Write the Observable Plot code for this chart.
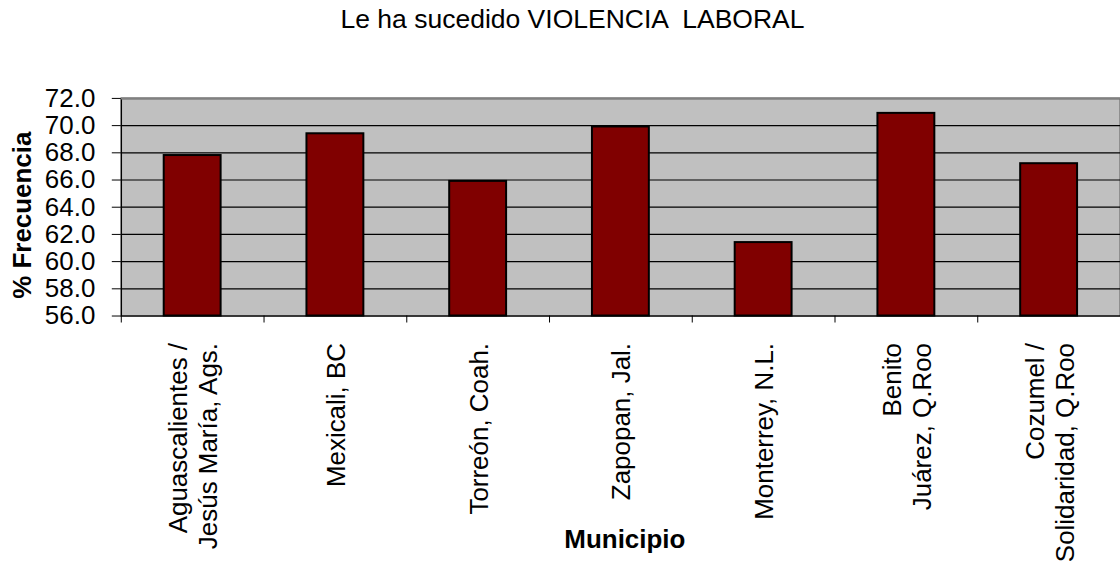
<!DOCTYPE html>
<html>
<head>
<meta charset="utf-8">
<script src="https://cdn.jsdelivr.net/npm/d3@7"></script>
<script src="https://cdn.jsdelivr.net/npm/@observablehq/plot@0.6"></script>
<style>
  html, body { margin: 0; padding: 0; background: #fff; overflow: hidden; }
  #title { position: relative; height: 50px; width: 1120px; font-family: "Liberation Sans", Arial, sans-serif; }
  #title span { position: absolute; top: 4px; left: 0; width: 1145px; text-align: center; font-size: 26.5px; color: #000; white-space: pre; }
</style>
</head>
<body>
<div id="title"><span>Le ha sucedido VIOLENCIA  LABORAL</span></div>
<div id="chart"></div>
<script>
const municipios = [
  "Aguascalientes /\nJesús María, Ags.",
  "Mexicali, BC",
  "Torreón, Coah.",
  "Zapopan, Jal.",
  "Monterrey, N.L.",
  "Benito\nJuárez, Q.Roo",
  "Cozumel /\nSolidaridad, Q.Roo"
];
const frecuencia = [67.8, 69.4, 65.9, 69.9, 61.4, 70.9, 67.2];
const yTicks = [56, 58, 60, 62, 64, 66, 68, 70, 72];
const yLabel = "% Frecuencia";
const xLabel = "Municipio";

const data = municipios.map((m, i) => ({municipio: m, valor: frecuencia[i]}));

const W = 1122, mL = 121, mR = 0;
const step = (W - mL - mR) / municipios.length;

const chart = Plot.plot({
  width: W,
  height: 523,
  marginTop: 48,
  marginBottom: 257,
  marginLeft: mL,
  marginRight: mR,
  style: {fontFamily: "'Liberation Sans', Arial, sans-serif", fontSize: "26px", color: "#000", background: "#fff", overflow: "visible"},
  x: {domain: municipios, paddingInner: 0.6, paddingOuter: 0.3, label: null, axis: null},
  y: {domain: [56, 72], label: null},
  marks: [
    Plot.frame({fill: "#c0c0c0", stroke: "#000", strokeWidth: 1.5}),
    Plot.ruleY(yTicks.slice(1, -1), {stroke: "#000", strokeWidth: 1.2}),
    Plot.ruleY([72], {stroke: "#808080", strokeWidth: 2}),
    Plot.barY(data, {x: "municipio", y1: yTicks[0], y2: "valor", fill: "#800000", stroke: "#000", strokeWidth: 2}),
    Plot.axisY({ticks: yTicks, tickFormat: d => d.toFixed(1), tickSize: 9, tickPadding: 17, fontSize: 26, label: null, stroke: "#000"}),
    Plot.axisX({tickFormat: () => "", tickSize: 7, dx: -step / 2, label: null}),
    Plot.text(data, {x: "municipio", text: "municipio", frameAnchor: "bottom", rotate: -90, dy: 27, textAnchor: "end", lineAnchor: "middle", lineHeight: 1.15, fontSize: 26}),
    Plot.text([yLabel], {frameAnchor: "left", text: d => d, rotate: -90, dx: -99, dy: 8, fontWeight: "bold", fontSize: 26, textAnchor: "middle", lineAnchor: "middle"}),
    Plot.text([xLabel], {frameAnchor: "bottom", text: d => d, dx: 4, dy: 224, fontWeight: "bold", fontSize: 26, textAnchor: "middle", lineAnchor: "middle"})
  ]
});
document.getElementById("chart").appendChild(chart);
</script>
</body>
</html>
